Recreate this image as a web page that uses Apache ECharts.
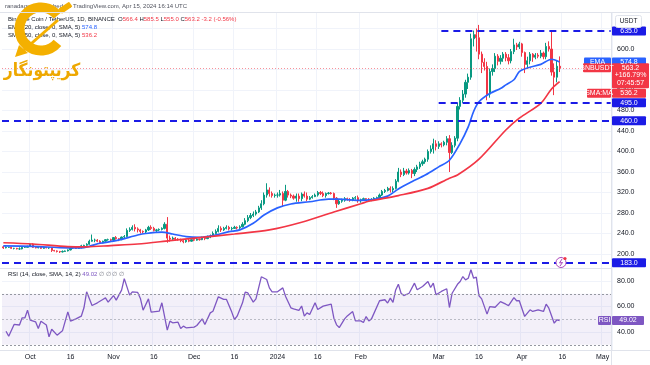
<!DOCTYPE html>
<html><head><meta charset="utf-8">
<script src="https://cdn.jsdelivr.net/npm/echarts/dist/echarts.min.js"></script>
<style>html,body{margin:0;padding:0;background:#fff}#c{width:650px;height:365px}</style>
</head><body><div id="c"></div>
<script>
// ---------- DATA ----------
const axisStart = '2023-09-21', axisEnd = '2024-05-04';
// candles: [open, close, low, high], consecutive days starting 2023-09-21
const candlesSep = [[214,212,210,216],[212,213,211,215],[213,213,212,214],[213,211,210,214],[211,211,209,212],[211,210,209,212],[210,210,208,213],[210,213,209,215],[213,213,212,215],[213,215,213,216]];
const candlesOct = [[215,219,214,220],[219,213,212,221],[213,212,211,214],[212,213,211,214],[213,211,210,214],[211,213,210,214],[213,212,211,214],[212,212,210,213],[212,207,204,213],[207,206,205,208],[206,205,203,207],[205,204,202,206],[204,205,203,207],[205,206,204,207],[206,208,205,209],[208,212,207,214],[212,212,210,213],[212,211,210,213],[211,212,210,213],[212,216,211,218],[216,217,215,218],[217,219,216,221],[219,225,218,228],[225,227,224,238],[227,227,223,230],[227,225,223,229],[225,222,221,227],[222,225,221,226],[225,228,224,229],[228,228,226,230],[228,227,225,230]];
const candlesNov = [[227,232,225,233],[232,230,228,235],[230,228,225,231],[228,233,227,234],[233,234,231,237],[234,246,233,250],[246,248,243,252],[248,252,246,256],[252,249,244,258],[249,247,242,252],[247,244,240,249],[244,243,240,246],[243,247,241,249],[247,252,245,255],[252,250,247,256],[250,246,244,253],[246,247,243,249],[247,248,245,250],[248,250,246,252],[250,258,248,262],[258,231,222,272],[231,229,224,236],[229,231,227,234],[231,229,226,233],[229,228,226,231],[228,226,223,230],[226,224,221,229],[224,227,222,229],[227,225,223,229],[225,228,224,230]];
const candlesDec = [[228,227,225,231],[227,229,226,231],[229,228,226,230],[228,231,227,234],[231,230,227,233],[230,233,229,236],[233,235,231,238],[235,240,234,244],[240,244,238,248],[244,250,242,256],[250,247,243,254],[247,250,245,253],[250,252,248,256],[252,249,246,255],[249,250,246,253],[250,252,249,255],[252,251,248,254],[251,253,249,256],[253,258,252,262],[258,265,256,270],[265,271,262,276],[271,275,268,280],[275,278,272,283],[278,282,275,286],[282,290,280,294],[290,298,286,305],[298,315,295,320],[315,325,310,338],[325,318,312,330],[318,314,310,322],[314,315,310,318]];
const candlesJan = [[315,315,310,320],[315,318,312,325],[318,305,292,322],[305,322,303,335],[322,315,310,325],[315,313,309,318],[313,309,306,316],[309,313,302,318],[313,308,302,318],[308,317,303,320],[317,313,310,322],[313,307,303,320],[307,310,305,313],[310,312,308,315],[312,315,311,318],[315,320,312,323],[320,318,315,323],[318,314,311,322],[314,318,310,320],[318,319,316,321],[319,318,316,321],[318,309,305,320],[309,298,290,311],[298,303,296,306],[303,305,300,308],[305,308,302,311],[308,306,304,310],[306,305,302,309],[305,309,303,311],[309,310,306,313],[310,304,300,314]];
const candlesFeb = [[304,306,300,308],[306,308,304,310],[308,307,305,309],[307,305,303,309],[305,306,303,309],[306,309,304,311],[309,310,306,312],[310,315,309,318],[315,322,313,325],[322,324,319,327],[324,328,322,331],[328,325,320,332],[325,328,321,332],[328,342,326,346],[342,360,340,368],[360,355,350,365],[355,362,352,368],[362,358,355,366],[358,363,355,367],[363,357,348,366],[357,365,352,369],[365,370,360,374],[370,376,366,380],[376,380,372,384],[380,385,376,388],[385,400,380,404],[400,405,396,412],[405,415,396,425],[415,410,402,422]];
const candlesMar = [[410,415,405,420],[415,413,408,418],[413,418,410,421],[418,425,412,430],[425,398,360,432],[398,412,395,418],[412,426,408,430],[426,488,420,495],[488,500,482,506],[500,512,495,520],[512,535,505,540],[535,545,522,552],[545,620,540,630],[620,628,605,636],[628,622,595,640],[622,590,580,647],[590,574,553,595],[574,566,558,582],[566,512,500,575],[512,556,505,562],[556,562,548,570],[562,586,555,592],[586,576,568,590],[576,582,570,588],[582,590,575,594],[590,583,576,594],[583,577,570,590],[577,595,572,600],[595,608,590,620],[608,604,598,612],[604,610,600,614]];
const candlesApr = [[610,593,585,612],[593,570,553,595],[570,577,562,585],[577,590,570,594],[590,584,575,592],[584,588,580,592],[588,586,582,592],[586,592,582,598],[592,585,580,595],[585,605,580,612],[605,600,595,615],[600,555,548,635],[555,545,510,572],[545,566.4,535,578],[566.4,563.2,555.0,585.5]];

const emaPoints = [['2023-09-21',216],['2023-10-02',215],['2023-10-15',212],['2023-10-20',212],['2023-10-23',215],['2023-10-27',221],['2023-11-01',225],['2023-11-04',228.5],['2023-11-10',237],['2023-11-13',240],['2023-11-19',242.5],['2023-11-23',239],['2023-11-28',234],['2023-12-03',232.5],['2023-12-08',236],['2023-12-14',243.5],['2023-12-18',247],['2023-12-23',260],['2023-12-27',276],['2024-01-01',290],['2024-01-06',297.5],['2024-01-13',302],['2024-01-20',307],['2024-01-24',307],['2024-02-01',304.5],['2024-02-05',306],['2024-02-11',313],['2024-02-15',327],['2024-02-20',341],['2024-02-25',354],['2024-03-01',370],['2024-03-05',383],['2024-03-09',416],['2024-03-12',448],['2024-03-14',478],['2024-03-16',497],['2024-03-20',513],['2024-03-24',523],['2024-03-26',530],['2024-03-29',540],['2024-03-31',556],['2024-04-03',563],['2024-04-08',570],['2024-04-12',580],['2024-04-13',579],['2024-04-15',574.8]];
const smaPoints = [['2023-09-21',222],['2023-10-02',219.5],['2023-10-15',214.5],['2023-10-22',214],['2023-10-31',216.5],['2023-11-10',219.5],['2023-11-22',226],['2023-12-03',232],['2023-12-16',239],['2023-12-29',247],['2024-01-10',262],['2024-01-22',282],['2024-02-01',298],['2024-02-04',303],['2024-02-15',314],['2024-02-26',328],['2024-03-05',348],['2024-03-08',354],['2024-03-16',385],['2024-03-26',442],['2024-03-31',465],['2024-04-08',494],['2024-04-12',522],['2024-04-15',536.2]];
const rsiPoints = [['2023-09-22',40.6],['2023-09-23',36.7],['2023-09-25',45.9],['2023-09-27',45.5],['2023-09-28',51.1],['2023-09-29',51],['2023-09-30',57.1],['2023-10-01',49.3],['2023-10-03',48],['2023-10-04',42.7],['2023-10-05',48.4],['2023-10-07',45.5],['2023-10-08',36.2],['2023-10-09',42.2],['2023-10-11',37.5],['2023-10-13',40.9],['2023-10-15',55.8],['2023-10-16',48.5],['2023-10-18',50.3],['2023-10-20',52.4],['2023-10-21',59],['2023-10-22',71.5],['2023-10-24',60.8],['2023-10-26',62.9],['2023-10-28',65.5],['2023-10-29',66.8],['2023-10-30',63.4],['2023-11-01',68.6],['2023-11-02',65],['2023-11-04',72.8],['2023-11-05',81.9],['2023-11-07',68.9],['2023-11-08',71.5],['2023-11-10',71],['2023-11-11',66.3],['2023-11-12',57.1],['2023-11-14',66],['2023-11-15',55.6],['2023-11-18',56.3],['2023-11-19',62.9],['2023-11-21',41.5],['2023-11-22',48.5],['2023-11-23',47.2],['2023-11-25',47.7],['2023-11-26',42.7],['2023-11-27',44.6],['2023-11-28',43.3],['2023-12-01',43.8],['2023-12-02',45.1],['2023-12-04',50.3],['2023-12-05',45.9],['2023-12-07',55],['2023-12-08',56.3],['2023-12-10',67.6],['2023-12-12',65.6],['2023-12-13',65.6],['2023-12-15',55.6],['2023-12-16',49.8],['2023-12-17',52.4],['2023-12-19',62.9],['2023-12-20',71.2],['2023-12-21',70.6],['2023-12-23',63.4],['2023-12-24',66],['2023-12-26',83.3],['2023-12-28',81.2],['2023-12-29',74.6],['2023-12-30',71.5],['2024-01-01',71.5],['2024-01-03',74.6],['2024-01-04',68.1],['2024-01-06',59],['2024-01-07',58.2],['2024-01-09',57],['2024-01-10',60.4],['2024-01-11',52.5],['2024-01-12',55],['2024-01-13',53.7],['2024-01-15',62.9],['2024-01-16',57.6],['2024-01-18',60.3],['2024-01-21',61.8],['2024-01-22',50.8],['2024-01-23',45.6],['2024-01-24',43.5],['2024-01-26',50.3],['2024-01-27',52.6],['2024-01-29',56],['2024-01-30',48.7],['2024-02-01',48.7],['2024-02-02',47.4],['2024-02-03',52.1],['2024-02-04',48.7],['2024-02-05',50.3],['2024-02-08',64.5],['2024-02-10',65.3],['2024-02-11',62.7],['2024-02-12',66.6],['2024-02-13',63.2],['2024-02-14',73],['2024-02-15',77.5],['2024-02-16',70.4],['2024-02-17',68.6],['2024-02-19',70.4],['2024-02-21',78.3],['2024-02-22',73.1],['2024-02-24',75.7],['2024-02-26',79.6],['2024-02-27',74.9],['2024-02-28',78.3],['2024-02-29',69.2],['2024-03-02',71.8],['2024-03-04',73.9],['2024-03-05',59.2],['2024-03-06',70.4],['2024-03-08',77.4],['2024-03-09',79.6],['2024-03-10',83.5],['2024-03-11',80.9],['2024-03-12',82.2],['2024-03-13',88.8],['2024-03-14',82.2],['2024-03-15',83],['2024-03-16',68.4],['2024-03-17',66],['2024-03-19',54],['2024-03-20',59.9],['2024-03-22',59.4],['2024-03-24',63.8],['2024-03-26',61.8],['2024-03-27',60.7],['2024-03-29',67],['2024-03-30',64.5],['2024-03-31',64.5],['2024-04-02',52.2],['2024-04-04',57.4],['2024-04-05',56.1],['2024-04-07',57.4],['2024-04-09',56.1],['2024-04-10',61.8],['2024-04-11',58.7],['2024-04-13',46.9],['2024-04-14',49.6],['2024-04-15',49.02]];

const levelLines = [635, 495, 460, 183];
const levelStarts = ['2024-03-02', '2024-03-01', null, null];
const priceTicks = {min:160, max:680, interval:40, showMin:200, showMax:600};
const rsiTicks = {min:20, max:100, interval:20, showMin:40, showMax:80};
const monthNames = ['2024','Feb','Mar','Apr','May','Jun','Jul','Aug','Sep','Oct','Nov','Dec'];
const lastClose = 563.2, lastEma = 574.8, lastSma = 536.2, lastRsi = 49.02;

// ---------- BUILD ----------
function dateList(a, b) {
  const out = []; let d = new Date(a + 'T00:00:00Z'); const e = new Date(b + 'T00:00:00Z');
  while (d <= e) { out.push(d.toISOString().slice(0, 10)); d = new Date(d.getTime() + 86400000); }
  return out;
}
const cats = dateList(axisStart, axisEnd);
const candles = [].concat(candlesSep, candlesOct, candlesNov, candlesDec, candlesJan, candlesFeb, candlesMar, candlesApr);

const FONT = 'Liberation Sans';
const TXT = '#131722';
const UP = '#089981', DN = '#f23645', BLUE = '#2962ff', PURP = '#7e57c2', LVL = '#1b1be6';
const showTick = (i, v) => { const d = +v.slice(8, 10); return (d === 1 || d === 16) && v !== '2024-02-16'; };
const fmtTick = v => { const d = +v.slice(8, 10); return d === 1 ? monthNames[+v.slice(5, 7) - 1] : '16'; };

const L = 2, W = 610;
const levelData = levelLines.map((v, i) => levelStarts[i]
  ? [{coord: [levelStarts[i], v]}, {coord: [axisEnd, v]}]
  : {yAxis: v});

function hideEnds(t) {
  const n = Math.round((t.max - t.min) / t.interval) + 1; const arr = [];
  for (let i = 0; i < n; i++) arr.push(i === 0 || i === n - 1 ? 'rgba(0,0,0,0)' : '#f0f3fa');
  return arr;
}

const option = {
  animation: false,
  backgroundColor: '#ffffff',
  grid: [
    {left: L, width: W, top: 8, height: 266.5},
    {left: L, width: W, top: 255.5, height: 102},
    {left: L, width: W, top: 13, height: 337}
  ],
  xAxis: [
    {type: 'category', gridIndex: 0, data: cats, show: false, boundaryGap: true},
    {type: 'category', gridIndex: 1, data: cats, show: false, boundaryGap: true},
    {type: 'category', gridIndex: 2, data: cats, boundaryGap: true,
      axisLine: {show: false}, axisTick: {show: false},
      axisLabel: {interval: showTick, formatter: fmtTick, fontSize: 7, color: TXT, fontFamily: FONT, margin: 4},
      splitLine: {show: true, interval: showTick, lineStyle: {color: '#f0f3fa', width: 1}}}
  ],
  yAxis: [
    {type: 'value', gridIndex: 0, position: 'right', min: priceTicks.min, max: priceTicks.max, interval: priceTicks.interval,
      axisLine: {show: false}, axisTick: {show: false},
      axisLabel: {fontSize: 7, color: TXT, fontFamily: FONT, margin: 5,
        formatter: v => (v >= priceTicks.showMin && v <= priceTicks.showMax) ? v.toFixed(1) : ''},
      splitLine: {lineStyle: {color: hideEnds(priceTicks)}}},
    {type: 'value', gridIndex: 1, position: 'right', min: rsiTicks.min, max: rsiTicks.max, interval: rsiTicks.interval,
      axisLine: {show: false}, axisTick: {show: false},
      axisLabel: {fontSize: 7, color: TXT, fontFamily: FONT, margin: 5,
        formatter: v => (v >= rsiTicks.showMin && v <= rsiTicks.showMax) ? v.toFixed(2) : ''},
      splitLine: {lineStyle: {color: hideEnds(rsiTicks)}}},
    {type: 'value', gridIndex: 2, min: 0, max: 1, show: false}
  ],
  series: [
    {type: 'line', xAxisIndex: 2, yAxisIndex: 2, data: [], silent: true},
    {type: 'candlestick', xAxisIndex: 0, yAxisIndex: 0, data: candles, barWidth: '62%', z: 3,
      itemStyle: {color: UP, color0: DN, borderColor: UP, borderColor0: DN, borderWidth: 1},
      markLine: {silent: true, symbol: ['none', 'none'], animation: false, label: {show: false},
        lineStyle: {color: LVL, width: 2.2, type: [7, 5]}, data: levelData}},
    {type: 'line', xAxisIndex: 0, yAxisIndex: 0, data: emaPoints, showSymbol: false, smooth: 0.3, z: 4,
      lineStyle: {color: BLUE, width: 1.7},
      markLine: {silent: true, symbol: ['none', 'none'], label: {show: false},
        lineStyle: {color: 'rgba(242,54,69,0.55)', width: 1, type: [1, 2]}, data: [{yAxis: lastClose}]}},
    {type: 'line', xAxisIndex: 0, yAxisIndex: 0, data: smaPoints, showSymbol: false, smooth: 0.3, z: 4,
      lineStyle: {color: DN, width: 1.7}},
    {type: 'line', xAxisIndex: 1, yAxisIndex: 1, data: rsiPoints, showSymbol: false, z: 4,
      lineStyle: {color: PURP, width: 1.3},
      markArea: {silent: true, itemStyle: {color: 'rgba(126,87,194,0.09)'}, data: [[{yAxis: 30}, {yAxis: 70}]]},
      markLine: {silent: true, symbol: ['none', 'none'], label: {show: false},
        data: [
          {yAxis: 70, lineStyle: {color: '#9598a1', width: 1, type: [2, 2]}},
          {yAxis: 50, lineStyle: {color: 'rgba(149,152,161,0.6)', width: 1, type: [2, 2]}},
          {yAxis: 30, lineStyle: {color: '#9598a1', width: 1, type: [2, 2]}}
        ]}}
  ]
};

const chart = echarts.init(document.getElementById('c'), null, {renderer: 'canvas'});
chart.setOption(option);

// ---------- OVERLAYS (tags, legends, frame) ----------
const Y0 = v => chart.convertToPixel({yAxisIndex: 0}, v);
const Y1 = v => chart.convertToPixel({yAxisIndex: 1}, v);
const g = [];
function box(x, y, w, h, fill, text, tc) {
  g.push({type: 'rect', z: 100, shape: {x, y, width: w, height: h, r: 1}, style: {fill}});
  g.push({type: 'text', z: 101, x: x + w / 2, y: y + h / 2,
    style: {text, fill: tc || '#ffffff', fontSize: 7, fontFamily: FONT, align: 'center', verticalAlign: 'middle'}});
}
function line(x1, y1, x2, y2, c) {
  g.push({type: 'line', z: 90, shape: {x1, y1, x2, y2}, style: {stroke: c || '#e0e3eb', lineWidth: 1}});
}
// frame
line(0, 12.5, 650, 12.5); line(0, 268.5, 612, 268.5); line(0, 350.5, 650, 350.5);
line(611.5, 12.5, 611.5, 365);
// level tags
levelLines.forEach(v => box(612, Y0(v) - 4.5, 34, 9, LVL, v.toFixed(1)));
// EMA tag
const ye = Y0(lastEma);
box(584, ye - 4.5, 27, 9, BLUE, 'EMA'); box(612, ye - 4.5, 34, 9, BLUE, lastEma.toFixed(1));
// BNB tag
const yc = Y0(lastClose);
box(583, yc - 4.5, 28, 9, DN, 'BNBUSDT');
g.push({type: 'rect', z: 100, shape: {x: 612, y: yc - 4.5, width: 37, height: 25, r: 1}, style: {fill: DN}});
['563.2', '+166.79%', '07:45:57'].forEach((t, i) => g.push({type: 'text', z: 101, x: 630.5, y: yc + i * 7.5,
  style: {text: t, fill: '#fff', fontSize: 7, fontFamily: FONT, align: 'center', verticalAlign: 'middle'}}));
// SMA tag (pushed below BNB tag)
const ys = Math.max(Y0(lastSma), yc + 20.5 + 5);
box(587, ys - 4.5, 24, 9, DN, 'SMA:MA'); box(612, ys - 4.5, 34, 9, DN, lastSma.toFixed(1));
// RSI tag
const yr = Y1(lastRsi);
box(598, yr - 4.5, 13, 9, PURP, 'RSI'); box(612, yr - 4.5, 32, 9, PURP, lastRsi.toFixed(2));
// USDT box
g.push({type: 'rect', z: 100, shape: {x: 615.5, y: 15.5, width: 26, height: 12, r: 2}, style: {fill: '#fff', stroke: '#e0e3eb', lineWidth: 1}});
g.push({type: 'text', z: 101, x: 628.5, y: 21.5, style: {text: 'USDT', fill: TXT, fontSize: 6.5, fontFamily: FONT, align: 'center', verticalAlign: 'middle'}});
// header + legends
const FS = 6;
const txt = (x, y, text, rich, fill) => g.push({type: 'text', z: 60, x, y,
  style: {text, fill: fill || TXT, fontSize: FS, fontFamily: FONT, verticalAlign: 'middle', rich: rich || {}}});
txt(5, 6.5, 'ranadagger published on TradingView.com, Apr 15, 2024 16:14 UTC', null, '#50535e');
const R = {r: {fill: DN, color: DN, fontSize: FS, fontFamily: FONT}, b: {fill: BLUE, color: BLUE, fontSize: FS, fontFamily: FONT},
  p: {fill: PURP, color: PURP, fontSize: FS, fontFamily: FONT}, k: {fill: TXT, color: TXT, fontSize: FS, fontFamily: FONT},
  gr: {fill: '#787b86', color: '#787b86', fontSize: FS, fontFamily: FONT}};
txt(8, 19.5, '{k|Binance Coin / TetherUS, 1D, BINANCE  O}{r|566.4} {k|H}{r|585.5} {k|L}{r|555.0} {k|C}{r|563.2} {r|-3.2 (-0.56%)}', R);
txt(8, 27.5, '{k|EMA (20, close, 0, SMA, 5)} {b|574.8}', R);
txt(8, 35.5, '{k|SMA (50, close, 0, SMA, 5)} {r|536.2}', R);
txt(8, 274.5, '{k|RSI (14, close, SMA, 14, 2)} {p|49.02} {gr|∅ ∅ ∅ ∅}', R);
// events icon
g.push({type: 'circle', z: 80, shape: {cx: 561, cy: 262.5, r: 5}, style: {fill: '#fff', stroke: '#ab47bc', lineWidth: 1}});
g.push({type: 'polyline', z: 81, shape: {points: [[562, 259], [559.5, 263], [562.5, 262.5], [560, 266]]}, style: {stroke: '#ab47bc', lineWidth: 1, fill: 'none'}});
g.push({type: 'circle', z: 82, shape: {cx: 565, cy: 258.5, r: 1.6}, style: {fill: DN}});
// watermark logo
const GOLD = '#f4b000';
g.push({type: 'arc', z: 70, shape: {cx: 41, cy: 29, r: 21.5, startAngle: 0.7, endAngle: 5.6, clockwise: true},
  style: {stroke: GOLD, lineWidth: 10, fill: 'none'}});
g.push({type: 'rect', z: 70, x: 0, y: 0, rotation: 0.6, originX: 65, originY: 8, shape: {x: 59, y: 5, width: 13, height: 6, r: 1}, style: {fill: GOLD}});
g.push({type: 'line', z: 71, shape: {x1: 58, y1: 20, x2: 24, y2: 50}, style: {stroke: GOLD, lineWidth: 3}});
g.push({type: 'polygon', z: 71, shape: {points: [[15, 57], [19, 45], [28, 53]]}, style: {fill: GOLD}});
g.push({type: 'text', z: 72, x: 42, y: 71, scaleX: 0.86, originX: 0, originY: 0,
  style: {text: 'کریپتونگار', fill: '#eea800', fontSize: 18, fontWeight: 'bold',
  fontFamily: 'DejaVu Sans', align: 'center', verticalAlign: 'middle'}});

chart.setOption({graphic: g});
</script>
</body></html>
